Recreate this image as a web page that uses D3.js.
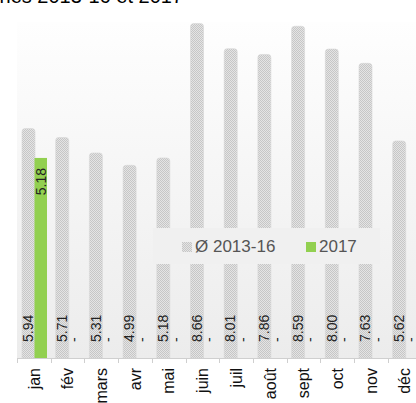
<!DOCTYPE html>
<html>
<head>
<meta charset="utf-8">
<script src="https://cdn.jsdelivr.net/npm/d3@7"></script>
<style>
  body { margin: 0; background: #fff; }
  svg { display: block; font-family: "Liberation Sans", Arial, sans-serif; }
</style>
</head>
<body>
<svg width="416" height="403"></svg>
<script>
// data
const months = ["jan", "fév", "mars", "avr", "mai", "juin", "juil", "août", "sept", "oct", "nov", "déc"];
const avg1316 = [5.94, 5.71, 5.31, 4.99, 5.18, 8.66, 8.01, 7.86, 8.59, 8.00, 7.63, 5.62];
const y2017 = [5.18, null, null, null, null, null, null, null, null, null, null, null];
const seriesNames = ["Ø 2013-16", "2017"];
const titleText = "Moyennes 2013-16 et 2017";

const width = 416, height = 403;
const margin = { top: 22, left: 17, bottom: 45 };
const bandW = 33.7;
const green = "#92d050";

const svg = d3.select("svg");
const defs = svg.append("defs");

// checker pattern for the average bars
const pat = defs.append("pattern")
    .attr("id", "checker")
    .attr("width", 2).attr("height", 2)
    .attr("patternUnits", "userSpaceOnUse");
pat.append("rect").attr("width", 2).attr("height", 2).attr("fill", "#e4e4e4");
pat.append("rect").attr("width", 1).attr("height", 1).attr("fill", "#c6c6c6");
pat.append("rect").attr("x", 1).attr("y", 1).attr("width", 1).attr("height", 1).attr("fill", "#c6c6c6");

const grad = defs.append("linearGradient")
    .attr("id", "bg").attr("x1", 0).attr("y1", 0).attr("x2", 0).attr("y2", 1);
grad.append("stop").attr("offset", 0).attr("stop-color", "#fefefe");
grad.append("stop").attr("offset", 1).attr("stop-color", "#ececec");

const x = d3.scaleBand()
    .domain(months)
    .range([margin.left, margin.left + bandW * months.length]);
const x1 = d3.scaleBand()
    .domain([0, 1])
    .range([5, 30]);
const y = d3.scaleLinear()
    .domain([0, 8.7])
    .range([height - margin.bottom, margin.top]);

const baseY = y(0);

// title (cut at top)
svg.append("text")
    .attr("x", 183).attr("y", 3)
    .attr("text-anchor", "end")
    .attr("font-size", 20)
    .attr("fill", "#000")
    .text(titleText);

// plot background
svg.append("rect")
    .attr("x", margin.left).attr("y", margin.top)
    .attr("width", width - margin.left).attr("height", baseY - margin.top)
    .attr("fill", "url(#bg)");

// average bars
const bw = x1.bandwidth();
svg.append("g")
    .selectAll("path")
    .data(avg1316)
    .join("path")
    .attr("fill", "url(#checker)")
    .attr("stroke", "#d6d6d6")
    .attr("stroke-width", 0.6)
    .attr("d", (d, i) => {
        const x0 = x(months[i]) + x1(0), xr = x0 + bw + 0.5, yt = y(d), r = 3;
        return `M${x0},${baseY}V${yt + r}Q${x0},${yt} ${x0 + r},${yt}H${xr - r}Q${xr},${yt} ${xr},${yt + r}V${baseY}Z`;
    });

// 2017 bars
svg.append("g")
    .selectAll("rect")
    .data(y2017.map((v, i) => ({ v, m: months[i] })).filter(d => d.v != null))
    .join("rect")
    .attr("x", d => x(d.m) + x1(1))
    .attr("y", d => y(d.v))
    .attr("width", bw)
    .attr("height", d => baseY - y(d.v))
    .attr("fill", green);

// value labels, average series (inside bottom)
svg.append("g")
    .selectAll("text")
    .data(avg1316)
    .join("text")
    .attr("transform", (d, i) => `translate(${x(months[i]) + x1(0) + bw / 2},${baseY - 16}) rotate(-90)`)
    .attr("dy", "0.36em")
    .attr("font-size", 14)
    .attr("fill", "#222")
    .text(d => d.toFixed(2));

// value labels, 2017 (inside top, or a dash when missing)
svg.append("g")
    .selectAll("text")
    .data(y2017)
    .join("text")
    .attr("transform", (d, i) => {
        const cx = x(months[i]) + x1(1) + bw / 2;
        return d == null ? `translate(${cx},${baseY - 16}) rotate(-90)` : `translate(${cx},${y(d) + 10}) rotate(-90)`;
    })
    .attr("text-anchor", d => d == null ? "start" : "end")
    .attr("dy", "0.36em")
    .attr("font-size", 14)
    .attr("fill", "#222")
    .text(d => d == null ? "-" : d.toFixed(2));

// x axis
const axis = svg.append("g");
axis.append("line")
    .attr("x1", margin.left).attr("x2", width)
    .attr("y1", baseY + 0.5).attr("y2", baseY + 0.5)
    .attr("stroke", "#cfcfcf");
axis.selectAll("line.tick")
    .data(months)
    .join("line")
    .attr("class", "tick")
    .attr("x1", d => Math.round(x(d)) + 0.5).attr("x2", d => Math.round(x(d)) + 0.5)
    .attr("y1", baseY).attr("y2", baseY + 5)
    .attr("stroke", "#cfcfcf");
axis.selectAll("text")
    .data(months)
    .join("text")
    .attr("transform", d => `translate(${x(d) + x.bandwidth() / 2},${baseY + 10}) rotate(-90)`)
    .attr("text-anchor", "end")
    .attr("dy", "0.36em")
    .attr("font-size", 16)
    .attr("fill", "#111")
    .text(d => d);

// legend
const lg = svg.append("g");
lg.append("rect")
    .attr("x", 153).attr("y", 228)
    .attr("width", 227).attr("height", 36)
    .attr("fill", "#f0f0f0");
const items = [
    { name: seriesNames[0], fill: "url(#checker)", mx: 182, tx: 195 },
    { name: seriesNames[1], fill: green, mx: 306, tx: 319 }
];
lg.selectAll("rect.mk")
    .data(items)
    .join("rect")
    .attr("class", "mk")
    .attr("x", d => d.mx).attr("y", 242)
    .attr("width", 10).attr("height", 10)
    .attr("fill", d => d.fill);
lg.selectAll("text")
    .data(items)
    .join("text")
    .attr("x", d => d.tx).attr("y", 252)
    .attr("font-size", 17)
    .attr("fill", "#555")
    .text(d => d.name);
</script>
</body>
</html>
